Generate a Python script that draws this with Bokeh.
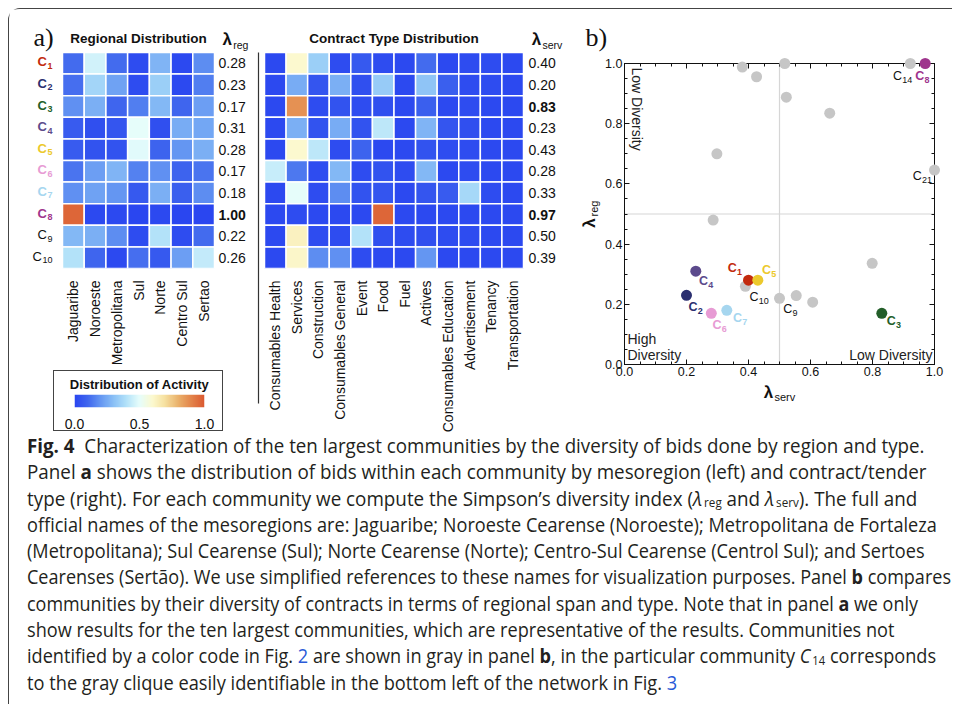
import numpy as np
from math import pi
from bokeh.plotting import figure
from bokeh.models import (ColumnDataSource, FixedTicker, Range1d, LinearAxis,
                          PrintfTickFormatter, Span, Div, LinearColorMapper)
from bokeh.layouts import row, column
from bokeh.transform import linear_cmap
from bokeh.core.properties import value
from bokeh.embed import file_html
from bokeh.resources import INLINE

# ---------------- data ----------------
community_ids = [1, 2, 3, 4, 5, 6, 7, 8, 9, 10]
community_colors = ["#c22a0e", "#2b2f70", "#235e29", "#5c4a8c", "#ecc92c",
                    "#e79bd4", "#a6d6ef", "#9f358d", None, None]

regions = ["Jaguaribe", "Noroeste", "Metropolitana", "Sul", "Norte", "Centro Sul", "Sertao"]
contracts = ["Consumables Health", "Services", "Construction", "Consumables General", "Event",
             "Food", "Fuel", "Actives", "Consumables Education", "Advertisement", "Tenancy",
             "Transportation"]

region_share = [
    [0.11, 0.46, 0.11, 0.02, 0.27, 0.01, 0.18],
    [0.12, 0.36, 0.23, 0.02, 0.34, 0.01, 0.15],
    [0.19, 0.26, 0.10, 0.15, 0.28, 0.10, 0.22],
    [0.07, 0.03, 0.05, 0.50, 0.03, 0.25, 0.24],
    [0.07, 0.04, 0.04, 0.49, 0.09, 0.20, 0.26],
    [0.13, 0.22, 0.27, 0.16, 0.19, 0.09, 0.13],
    [0.19, 0.23, 0.20, 0.06, 0.26, 0.08, 0.18],
    [0.97, 0.01, 0.01, 0.00, 0.01, 0.00, 0.00],
    [0.28, 0.26, 0.18, 0.02, 0.40, 0.02, 0.11],
    [0.40, 0.10, 0.01, 0.12, 0.06, 0.22, 0.43],
]
contract_share = [
    [0.01, 0.60, 0.34, 0.02, 0.06, 0.02, 0.01, 0.11, 0.01, 0.02, 0.02, 0.01],
    [0.01, 0.25, 0.05, 0.26, 0.03, 0.33, 0.01, 0.31, 0.08, 0.02, 0.02, 0.01],
    [0.01, 0.87, 0.02, 0.04, 0.02, 0.03, 0.01, 0.08, 0.01, 0.02, 0.01, 0.01],
    [0.01, 0.26, 0.04, 0.25, 0.04, 0.42, 0.01, 0.27, 0.05, 0.03, 0.01, 0.01],
    [0.01, 0.60, 0.42, 0.02, 0.09, 0.01, 0.01, 0.04, 0.02, 0.02, 0.01, 0.01],
    [0.44, 0.14, 0.02, 0.28, 0.02, 0.04, 0.02, 0.28, 0.01, 0.02, 0.01, 0.01],
    [0.01, 0.50, 0.02, 0.18, 0.04, 0.05, 0.01, 0.05, 0.07, 0.37, 0.02, 0.01],
    [0.01, 0.02, 0.01, 0.01, 0.01, 0.97, 0.01, 0.01, 0.01, 0.01, 0.01, 0.01],
    [0.01, 0.63, 0.02, 0.02, 0.40, 0.03, 0.02, 0.03, 0.02, 0.02, 0.01, 0.01],
    [0.01, 0.61, 0.18, 0.19, 0.02, 0.01, 0.01, 0.20, 0.01, 0.01, 0.01, 0.01],
]
lambda_reg = [0.28, 0.23, 0.17, 0.31, 0.28, 0.17, 0.18, 1.00, 0.22, 0.26]
lambda_serv = [0.40, 0.20, 0.83, 0.23, 0.43, 0.28, 0.33, 0.97, 0.50, 0.39]

# other (gray) communities in panel b
other_serv = [0.380, 0.426, 0.517, 0.522, 0.662, 0.298, 0.286, 0.922, 1.000, 0.799, 0.554, 0.607]
other_reg = [0.988, 0.956, 1.000, 0.888, 0.835, 0.700, 0.480, 1.000, 0.646, 0.336, 0.229, 0.207]
other_labels = [None, None, None, None, None, None, None, 14, 21, None, None, None]

colorbar_ticks = [0.0, 0.5, 1.0]
scatter_major_ticks = [0.0, 0.2, 0.4, 0.6, 0.8, 1.0]
scatter_minor_ticks = [0.05, 0.10, 0.15, 0.25, 0.30, 0.35, 0.45, 0.50, 0.55, 0.65, 0.70, 0.75,
                       0.85, 0.90, 0.95]

# ---------------- styles ----------------
FONT = "Liberation Sans, Arial, Helvetica, sans-serif"
SERIF = "Liberation Serif, Times New Roman, serif"
TXT = "#111111"
GRAY = "#c6c6c6"
stops = [(0.00, "#2a46f0"), (0.10, "#3f66ee"), (0.20, "#6496f2"), (0.30, "#8bc1f6"),
         (0.40, "#b3e2f9"), (0.50, "#e6fdfb"), (0.60, "#fcf9cf"), (0.70, "#f6df9e"),
         (0.80, "#eab06a"), (0.90, "#e3844a"), (1.00, "#db5b31")]


def make_palette(st, n=256):
    pos = np.array([s[0] for s in st])
    rgb = np.array([[int(c[1:3], 16), int(c[3:5], 16), int(c[5:7], 16)] for _, c in st], float)
    out = []
    for t in np.linspace(0, 1, n):
        r, g, b = (np.interp(t, pos, rgb[:, k]) for k in range(3))
        out.append("#%02x%02x%02x" % (int(round(r)), int(round(g)), int(round(b))))
    return out


PALETTE = make_palette(stops)

label_offsets = {1: (-13.7, -10.3), 2: (9, 13.3), 3: (12, 9.3), 4: (10.3, 11.7), 5: (11.3, -9),
                 6: (8.3, 13), 7: (13.3, 8.7), 8: (-3, 14), 9: (10.7, 12.3), 10: (13.7, 12),
                 14: (-7.7, 13.7), 21: (-12.3, 7.3)}


def base_fig(**kw):
    p = figure(output_backend="svg", toolbar_location=None, title=None, **kw)
    p.outline_line_color = None
    p.grid.visible = False
    p.background_fill_color = "white"
    p.border_fill_color = "white"
    return p


def style_cat_axis(axis, labels):
    axis.ticker = FixedTicker(ticks=[i + 0.5 for i in range(len(labels))])
    axis.major_label_overrides = {i + 0.5: lab for i, lab in enumerate(labels)}
    axis.axis_line_color = None
    axis.major_tick_line_color = None
    axis.minor_tick_line_color = None
    axis.major_label_orientation = pi / 2
    axis.major_label_text_font = FONT
    axis.major_label_text_font_size = "14px"
    axis.major_label_text_color = TXT
    axis.major_label_standoff = 6


def cell_source(shares):
    xs, ys, vs = [], [], []
    for r, rv in enumerate(shares):
        for c, v in enumerate(rv):
            xs.append(c + 0.5)
            ys.append(r + 0.5)
            vs.append(v)
    return ColumnDataSource(dict(x=xs, y=ys, v=vs))


def draw_sub_labels(p, xs, ys, nums, colors, styles, cx, nx, cy, ny, c_align, size_c, size_n):
    src = ColumnDataSource(dict(x=xs, y=ys, c=["C"] * len(xs), n=[str(k) for k in nums],
                                col=colors, st=styles, cx=cx, nx=nx, cy=cy, ny=ny))
    p.text("x", "y", text="c", source=src, x_offset="cx", y_offset="cy", text_align=c_align,
           text_baseline="middle", text_color="col", text_font_style="st",
           text_font=value(FONT), text_font_size=size_c, level="overlay")
    p.text("x", "y", text="n", source=src, x_offset="nx", y_offset="ny", text_align="left",
           text_baseline="middle", text_color="col", text_font_style="st",
           text_font=value(FONT), text_font_size=size_n, level="overlay")


CW_A = (214 - 62) / 7
RH = (268 - 52) / 10
CW_B = (523 - 264) / 12


def ay(py):
    return (py - 52) / RH


def ax(px):
    return (px - 62) / CW_A


def bx(px):
    return (px - 264) / CW_B


def sx(px):
    return (px - 624) / 310


def sy(py):
    return (364 - py) / 301


def heat_panel(p, shares, lambdas, cols, xconv, lam_px, title, sub, lam_head_px, title_x):
    p.rect("x", "y", 1, 1, source=cell_source(shares),
           fill_color=linear_cmap("v", PALETTE, 0, 1), line_color="white", line_width=1.5)
    style_cat_axis(p.xaxis[0], cols)
    lsrc = ColumnDataSource(dict(x=[xconv(lam_px)] * len(lambdas),
                                 y=[r + 0.5 for r in range(len(lambdas))],
                                 t=["%.2f" % v for v in lambdas],
                                 st=["bold" if v > 0.75 else "normal" for v in lambdas]))
    p.text("x", "y", text="t", source=lsrc, text_align="left", text_baseline="middle",
           text_font_style="st", text_font=value(FONT), text_font_size="14px", text_color=TXT)
    p.text([title_x], [ay(38)], text=[title], text_align="center", text_baseline="middle",
           text_font_style="bold", text_font=value(FONT), text_font_size="13.5px", text_color=TXT)
    p.text([xconv(lam_head_px)], [ay(38.5)], text=["λ"], text_align="center",
           text_baseline="middle", text_font_style="bold", text_font=value(FONT),
           text_font_size="17px", text_color=TXT)
    p.text([xconv(lam_head_px + 6)], [ay(44)], text=[sub], text_align="left",
           text_baseline="middle", text_font=value(FONT), text_font_size="10.5px", text_color=TXT)


# ---------------- panel a: regional ----------------
figA = base_fig(width=245, height=361, x_range=Range1d(ax(9), ax(254)),
                y_range=Range1d(10, ay(9)), y_axis_location=None,
                min_border_left=0, min_border_right=0, min_border_top=0, min_border_bottom=102)
heat_panel(figA, region_share, lambda_reg, regions, ax, 218, "Regional Distribution", "reg",
           226.7, len(regions) / 2)

n = len(community_ids)
nd = [len(str(k)) for k in community_ids]
row_cols = [c if c else TXT for c in community_colors]
row_st = ["bold" if c else "normal" for c in community_colors]
draw_sub_labels(figA, [ax(52)] * n, [r + 0.5 for r in range(n)], community_ids, row_cols, row_st,
                [-(5.0 * d) - 0.5 for d in nd], [-(5.0 * d) for d in nd],
                [-1.5] * n, [2.5] * n, "right", "13px", "9px")
figA.text([ax(33)], [ay(37)], text=["a)"], text_align="left", text_baseline="middle",
          text_font=value(SERIF), text_font_size="26px", text_color=TXT, level="overlay")

# ---------------- panel a: contract types ----------------
figB = base_fig(width=324, height=429, x_range=Range1d(bx(254), bx(578)),
                y_range=Range1d(10, ay(9)), y_axis_location=None,
                min_border_left=0, min_border_right=0, min_border_top=0, min_border_bottom=170)
heat_panel(figB, contract_share, lambda_serv, contracts, bx, 528, "Contract Type Distribution",
           "serv", 536, len(contracts) / 2)
figB.segment(x0=[bx(258)], y0=[0], x1=[bx(258)], y1=[ay(403)], line_color="#333333",
             line_width=1.2, level="overlay")

# ---------------- colour bar ----------------
figCB = base_fig(width=170, height=61, x_range=Range1d(0, 1), y_range=Range1d(0, 1),
                 y_axis_location=None, min_border_left=20, min_border_right=20,
                 min_border_top=23, min_border_bottom=25,
                 margin=(0, 0, 0, 44), styles={"border": "1px solid #444444"})
mapper = LinearColorMapper(palette=PALETTE, low=0, high=1)
figCB.image(image=[np.linspace(0, 1, 256).reshape(1, 256)], x=0, y=0, dw=1, dh=1,
            color_mapper=mapper)
cax = figCB.xaxis[0]
cax.ticker = FixedTicker(ticks=colorbar_ticks)
cax.formatter = PrintfTickFormatter(format="%.1f")
cax.axis_line_color = None
cax.major_tick_line_color = None
cax.minor_tick_line_color = None
cax.major_label_text_font = FONT
cax.major_label_text_font_size = "14px"
cax.major_label_text_color = TXT
cax.major_label_standoff = 5
figCB.text([0.5], [1.0 + 10 / 13], text=["Distribution of Activity"], text_align="center",
           text_baseline="middle", text_font_style="bold", text_font=value(FONT),
           text_font_size="13px", text_color=TXT, level="overlay")

# ---------------- panel b: scatter ----------------
figS = base_fig(width=370, height=429, x_range=Range1d(0, 1), y_range=Range1d(0, 1),
                min_border_left=46, min_border_right=14, min_border_top=54, min_border_bottom=74)
figS.outline_line_color = "#111111"
for a in (figS.xaxis[0], figS.yaxis[0]):
    a.ticker = FixedTicker(ticks=scatter_major_ticks, minor_ticks=scatter_minor_ticks)
    a.formatter = PrintfTickFormatter(format="%.1f")
    a.axis_line_color = "#111111"
    a.major_tick_line_color = "#111111"
    a.minor_tick_line_color = "#111111"
    a.major_tick_in = 5
    a.major_tick_out = 0
    a.minor_tick_in = 3
    a.minor_tick_out = 0
    a.major_label_text_font = FONT
    a.major_label_text_font_size = "12.5px"
    a.major_label_text_color = TXT
    a.major_label_standoff = 2
for side in ("right", "above"):
    for vals, ln in ((scatter_major_ticks, 5), (scatter_minor_ticks, 3)):
        figS.add_layout(LinearAxis(ticker=FixedTicker(ticks=[], minor_ticks=vals),
                                   minor_tick_in=ln, minor_tick_out=0, major_tick_in=0,
                                   major_tick_out=0, major_label_standoff=0,
                                   axis_line_color="#111111", minor_tick_line_color="#111111"),
                        side)

figS.add_layout(Span(location=0.5, dimension="height", line_color="#d6d6d6", line_width=1.2,
                     level="underlay"))
figS.add_layout(Span(location=0.5, dimension="width", line_color="#d6d6d6", line_width=1.2,
                     level="underlay"))

gray_idx = [i for i in range(n) if community_colors[i] is None]
col_idx = [i for i in range(n) if community_colors[i] is not None]
figS.scatter(other_serv + [lambda_serv[i] for i in gray_idx],
             other_reg + [lambda_reg[i] for i in gray_idx],
             size=11, fill_color=GRAY, line_color=None, level="overlay")
figS.scatter([lambda_serv[i] for i in col_idx], [lambda_reg[i] for i in col_idx], size=11,
             fill_color=[community_colors[i] for i in col_idx], line_color=None, level="overlay")

lx, ly, lnum, lcol, lst = [], [], [], [], []
for i in range(n):
    lx.append(lambda_serv[i]); ly.append(lambda_reg[i]); lnum.append(community_ids[i])
    lcol.append(community_colors[i] or TXT)
    lst.append("bold" if community_colors[i] else "normal")
for xv, yv, lab in zip(other_serv, other_reg, other_labels):
    if lab is not None:
        lx.append(xv); ly.append(yv); lnum.append(lab); lcol.append(TXT); lst.append("normal")
cxo, nxo, cyo, nyo = [], [], [], []
for k in lnum:
    dx, dy = label_offsets[k]
    w = 9.0 + 5.0 * len(str(k))
    cxo.append(dx - w / 2); nxo.append(dx - w / 2 + 9.2)
    cyo.append(dy - 1.5); nyo.append(dy + 2.5)
draw_sub_labels(figS, lx, ly, lnum, lcol, lst, cxo, nxo, cyo, nyo, "left", "12.5px", "9px")

qt = dict(text_font=value(FONT), text_font_size="14px", text_color="#222222", level="overlay",
          text_baseline="middle")
figS.text([sx(636)], [sy(67)], text=["Low Diversity"], angle=-pi / 2, text_align="left", **qt)
figS.text([sx(627)], [sy(338)], text=["High"], text_align="left", **qt)
figS.text([sx(627)], [sy(354)], text=["Diversity"], text_align="left", **qt)
figS.text([sx(932)], [sy(354)], text=["Low Diversity"], text_align="right", **qt)

figS.text([sx(585)], [sy(37)], text=["b)"], text_align="left", text_baseline="middle",
          text_font=value(SERIF), text_font_size="26px", text_color=TXT, level="overlay")
figS.text([sx(768)], [sy(392)], text=["λ"], text_align="center", text_baseline="middle",
          text_font_style="bold", text_font=value(FONT), text_font_size="17px", text_color=TXT,
          level="overlay")
figS.text([sx(774)], [sy(396)], text=["serv"], text_align="left", text_baseline="middle",
          text_font=value(FONT), text_font_size="11px", text_color=TXT, level="overlay")
figS.text([sx(589)], [sy(222.5)], text=["λ"], angle=pi / 2, text_align="center",
          text_baseline="middle", text_font_style="bold", text_font=value(FONT),
          text_font_size="17px", text_color=TXT, level="overlay")
figS.text([sx(593)], [sy(216)], text=["reg"], angle=pi / 2, text_align="left",
          text_baseline="middle", text_font=value(FONT), text_font_size="11px", text_color=TXT,
          level="overlay")

# ---------------- caption ----------------
SUB = "<span style='font-size:0.62em;line-height:0;vertical-align:-0.1em;margin-left:2px'>"
BLUE = "<span style='color:#2a5bd7'>"
cap_lines = [
    "<b>Fig.&nbsp;4</b>&nbsp;&nbsp;Characterization of the ten largest communities by the diversity of bids done by region and type.",
    "Panel <b>a</b> shows the distribution of bids within each community by mesoregion (left) and contract/tender",
    "type (right). For each community we compute the Simpson’s diversity index (<i>λ</i>" + SUB + "reg</span> and <i>λ</i>" + SUB + "serv</span>). The full and",
    "official names of the mesoregions are: Jaguaribe; Noroeste Cearense (Noroeste); Metropolitana de Fortaleza",
    "(Metropolitana); Sul Cearense (Sul); Norte Cearense (Norte); Centro-Sul Cearense (Centrol Sul); and Sertoes",
    "Cearenses (Sertão). We use simplified references to these names for visualization purposes. Panel <b>b</b> compares",
    "communities by their diversity of contracts in terms of regional span and type. Note that in panel <b>a</b> we only",
    "show results for the ten largest communities, which are representative of the results. Communities not",
    "identified by a color code in Fig. " + BLUE + "2</span> are shown in gray in panel <b>b</b>, in the particular community <i>C</i>" + SUB + "14</span> corresponds",
    "to the gray clique easily identifiable in the bottom left of the network in Fig. " + BLUE + "3</span>",
]
line_squeeze = [0.962, 0.965, 0.965, 0.93, 0.93, 0.925, 0.92, 0.93, 0.93, 0.935]
cap_html = ("<div style=\"font-family:'Open Sans',sans-serif;"
            "font-size:19.5px;line-height:26.3px;color:#231f20;white-space:nowrap;position:relative;top:-5px\">"
            + "".join("<div style='height:26.3px;transform:scaleX(%.3f);transform-origin:0 0'>%s</div>"
                      % (k, t) for k, t in zip(line_squeeze, cap_lines))
            + "</div>")
caption = Div(text=cap_html, width=925, height=266, margin=(0, 0, 0, 18))

colA = column(column(figA), column(figCB), spacing=0)
top = row(colA, column(figB), column(figS), spacing=0)
outer = column(top, caption, spacing=0, margin=(8, 0, 0, 8),
               styles={"border-top": "1.5px solid #444444", "border-left": "1.5px solid #444444",
                       "border-top-left-radius": "12px"})

open("out.html", "w").write(file_html(outer, INLINE))
